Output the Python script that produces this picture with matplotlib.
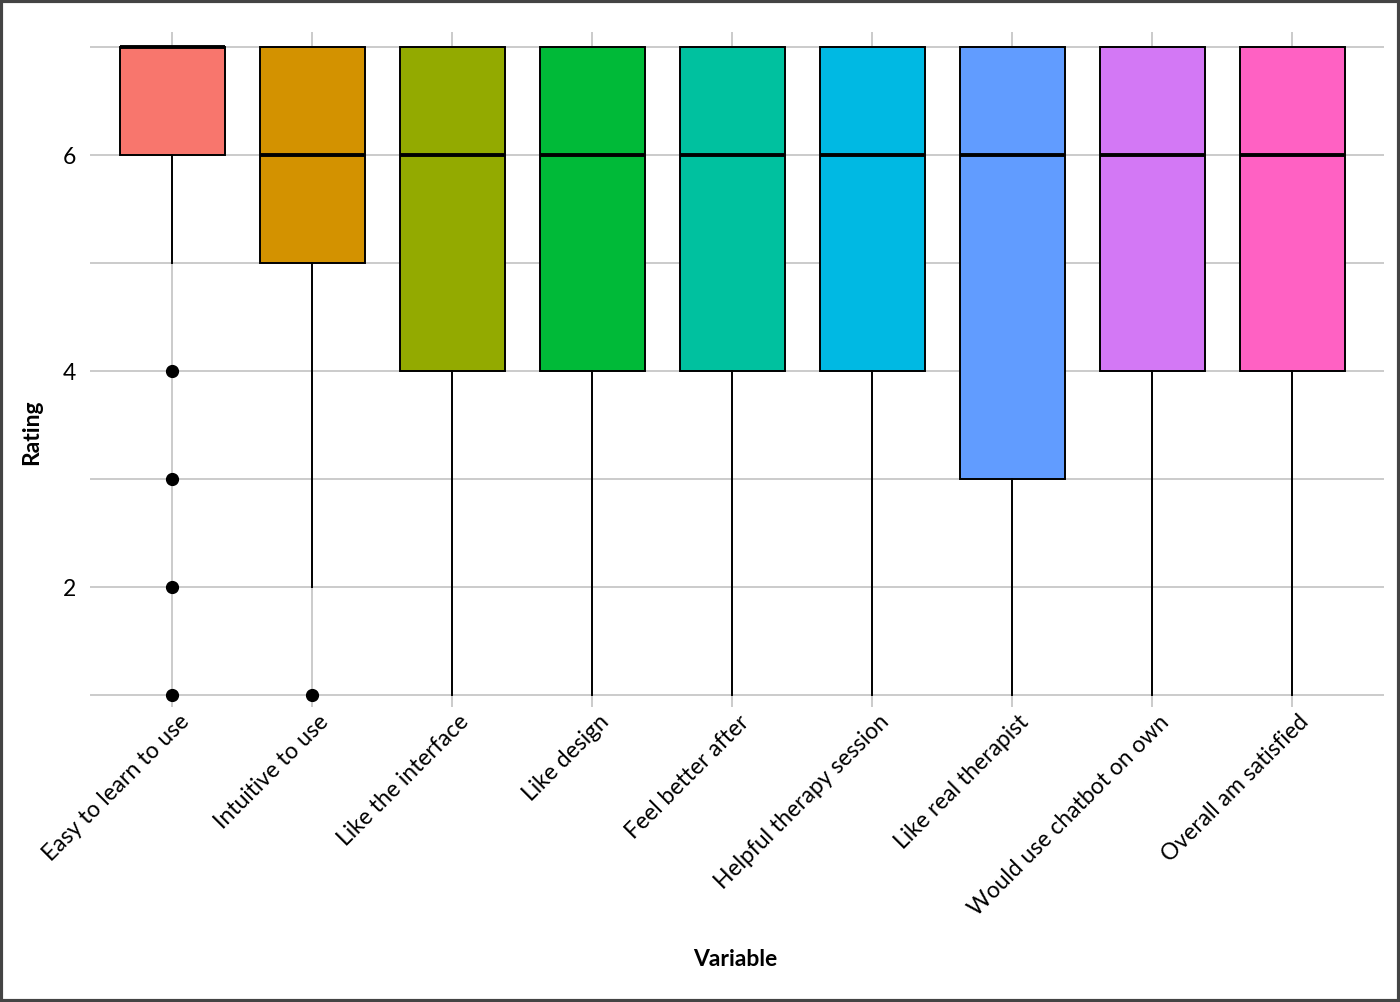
import matplotlib
matplotlib.use("Agg")
import matplotlib.pyplot as plt
from matplotlib.patches import Rectangle
from matplotlib.transforms import ScaledTranslation

plt.rcParams['font.family'] = ['Lato', 'DejaVu Sans']

# survey items and box statistics (ratings 1-7)
variables = ['Easy to learn to use', 'Intuitive to use', 'Like the interface',
             'Like design', 'Feel better after', 'Helpful therapy session',
             'Like real therapist', 'Would use chatbot on own', 'Overall am satisfied']
q1s = [6, 5, 4, 4, 4, 4, 3, 4, 4]
medians = [7, 6, 6, 6, 6, 6, 6, 6, 6]
q3s = [7, 7, 7, 7, 7, 7, 7, 7, 7]
whisker_lo = [5, 2, 1, 1, 1, 1, 1, 1, 1]
whisker_hi = [7, 7, 7, 7, 7, 7, 7, 7, 7]
outliers = [[4, 3, 2, 1], [1], [], [], [], [], [], [], []]
colors = ['#F8766D', '#D39200', '#93AA00', '#00BA38', '#00C19F',
          '#00B9E3', '#619CFF', '#D378F5', '#FF61C3']

fig = plt.figure(figsize=(14, 10.02), dpi=100)
ax = fig.add_axes([0.0643, 0.2944, 0.9243, 0.6736])

stats = []
for i, name in enumerate(variables):
    stats.append(dict(label=name, q1=q1s[i], med=medians[i], q3=q3s[i],
                      whislo=whisker_lo[i], whishi=whisker_hi[i], fliers=outliers[i]))

positions = list(range(len(variables)))
bp = ax.bxp(stats, positions=positions, widths=0.75, patch_artist=True, showcaps=False,
            boxprops=dict(edgecolor='black', linewidth=1.4),
            whiskerprops=dict(color='black', linewidth=1.4),
            medianprops=dict(color='black', linewidth=2.8, solid_capstyle='butt'),
            flierprops=dict(marker='o', markerfacecolor='black', markeredgecolor='black',
                            markersize=8.5))
for patch, c in zip(bp['boxes'], colors):
    patch.set_facecolor(c)
    patch.set_zorder(3)
for line in bp['medians'] + bp['whiskers'] + bp['fliers']:
    line.set_zorder(4)

ax.set_xlim(-0.586, 8.657)
ax.set_ylim(0.889, 7.139)
ax.set_yticks([2, 4, 6])
ax.set_yticks([1, 3, 5, 7], minor=True)
ax.set_xticks(positions)
ax.set_xticklabels(variables, rotation=45, ha='right', va='top', rotation_mode='anchor',
                   fontsize=16.5)
ax.tick_params(axis='y', which='both', length=0, labelsize=16.5, pad=10)
ax.tick_params(axis='x', length=0, pad=3)

# nudge the rotated labels a little to the right, like the reference
shift = ScaledTranslation(6 / 100, 0, fig.dpi_scale_trans)
for lbl in ax.get_xticklabels():
    lbl.set_transform(lbl.get_transform() + shift)

ax.grid(True, which='both', color='#bdbdbd', linewidth=1.1)
ax.set_axisbelow(True)
for s in ax.spines.values():
    s.set_visible(False)

ax.set_xlabel('Variable', fontsize=16.5, fontweight='bold')
ax.set_ylabel('Rating', fontsize=16.5, fontweight='bold')
ax.xaxis.set_label_coords(0.499, -0.358)
ax.yaxis.set_label_coords(-0.037, 0.407)

# outer frame around the image
fig.patches.append(Rectangle((0.001, 0.001), 0.998, 0.998, transform=fig.transFigure,
                             fill=False, edgecolor='#444444', linewidth=3))

fig.savefig('out.png', dpi=100)
